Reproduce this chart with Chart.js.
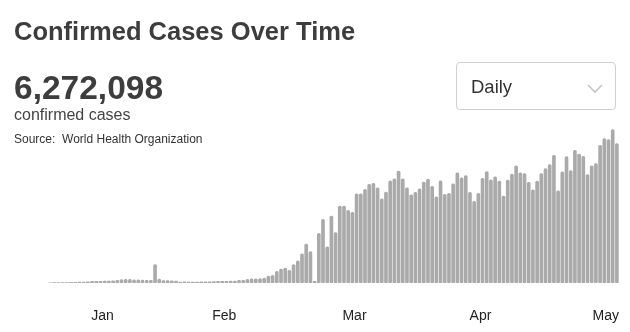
<!DOCTYPE html>
<html>
<head>
<meta charset="utf-8">
<script src="https://cdn.jsdelivr.net/npm/chart.js@4"></script>
<style>
  body { margin: 0; background: #fff; font-family: "Liberation Sans", Arial, sans-serif; }
  #wrap { position: relative; width: 630px; height: 332px; overflow: hidden; }
  #chartBox { position: absolute; left: 0; top: 0; width: 630px; height: 332px; }
  .title { position: absolute; left: 14px; top: 16.5px; font-size: 25.5px; font-weight: bold; color: #3d3d3d; white-space: nowrap; }
  .total { position: absolute; left: 14px; top: 68.5px; font-size: 33.5px; font-weight: bold; color: #3d3d3d; }
  .sub { position: absolute; left: 14px; top: 106px; font-size: 16px; color: #444; }
  .source { position: absolute; left: 14px; top: 132px; font-size: 12px; color: #333; white-space: pre; }
  .select { position: absolute; left: 456px; top: 62px; width: 160px; height: 48px; border: 1px solid #cfcfcf; border-radius: 4px; box-sizing: border-box; }
  .select span { position: absolute; left: 14px; top: 13px; font-size: 18.5px; color: #333; }
  .select svg { position: absolute; left: 129px; top: 19px; }
</style>
</head>
<body>
<div id="wrap">
  <div id="chartBox"><canvas id="casesChart"></canvas></div>
  <div class="title">Confirmed Cases Over Time</div>
  <div class="total">6,272,098</div>
  <div class="sub">confirmed cases</div>
  <div class="source">Source:  World Health Organization</div>
  <div class="select"><span>Daily</span>
    <svg width="18" height="12"><polyline points="2,3 9,10 16,3" fill="none" stroke="#c4c4c4" stroke-width="1.6"/></svg>
  </div>
</div>
<script>
// daily new cases, one per day starting 19 Jan 2020
const startDate = '2020-01-19';
const dailyCases = [
  250, 260, 340, 420, 430, 510, 600, 770, 850, 1100,
  1360, 1450, 1530, 1620, 1700, 1870, 2380, 2980, 3230, 3060,
  2800, 2720, 2550, 2380, 2210, 15730, 3400, 2130, 1960, 1870,
  1700, 850, 1020, 850, 680, 850, 940, 1020, 1100, 1280,
  1360, 1530, 1450, 1620, 1700, 2300, 2380, 3230, 3570, 3660,
  3830, 4250, 5950, 6460, 9860, 11900, 12750, 10710, 15810, 18960,
  24900, 33150, 26860, 1360, 42500, 54400, 30860, 57200, 43010, 65700,
  65700, 62050, 60350, 76160, 76160, 79900, 84150, 85000, 81260, 71910,
  77610, 87210, 88910, 95460, 88910, 81260, 75310, 77350, 80410, 86110,
  88660, 82450, 73610, 87210, 75650, 76500, 84660, 94010, 89760, 91800,
  77350, 69700, 76500, 89250, 95200, 88060, 90610, 86960, 74210, 87810,
  92910, 99960, 94010, 93500, 85850, 79560, 86960, 93500, 97750, 101150,
  109060, 78710, 94860, 107950, 96050, 113310, 110160, 108210, 92650, 99960,
  102000, 117560, 123250, 122400, 130900, 119000
];
// month labels and the day they sit on
const tickDates = ['2020-02-01', '2020-03-01', '2020-04-01', '2020-05-01', '2020-06-01'];
const tickLabels = ['Jan', 'Feb', 'Mar', 'Apr', 'May'];

// day labels
const days = [];
const d0 = new Date(startDate + 'T00:00:00Z');
for (let i = 0; i < dailyCases.length; i++) {
  const d = new Date(d0.getTime() + i * 86400000);
  days.push(d.toISOString().slice(0, 10));
}

// draws the month names under the bars, kept inside the chart area
const monthLabels = {
  id: 'monthLabels',
  afterDraw(chart) {
    const ctx = chart.ctx;
    const x = chart.scales.x;
    const area = chart.chartArea;
    ctx.save();
    ctx.font = '14px "Liberation Sans", Arial, sans-serif';
    ctx.fillStyle = '#222';
    ctx.textAlign = 'center';
    ctx.textBaseline = 'alphabetic';
    tickDates.forEach((t, i) => {
      const idx = days.indexOf(t);
      let px = x.getPixelForValue(idx - 0.5);
      const w = ctx.measureText(tickLabels[i]).width;
      px = Math.min(px, area.right - w / 2);
      ctx.fillText(tickLabels[i], px, 320);
    });
    ctx.restore();
  }
};

const ctx = document.getElementById('casesChart').getContext('2d');
new Chart(ctx, {
  type: 'bar',
  data: {
    labels: days,
    datasets: [{
      data: dailyCases,
      backgroundColor: '#aaaaaa',
      barThickness: 3,
      borderRadius: 1.5,
      borderSkipped: false
    }]
  },
  options: {
    responsive: true,
    maintainAspectRatio: false,
    animation: false,
    layout: { padding: { left: 48, right: 11, top: 119, bottom: 49 } },
    scales: {
      x: { display: false },
      y: { display: false, min: 0, max: 140000 }
    },
    plugins: {
      legend: { display: false },
      tooltip: { enabled: false }
    }
  },
  plugins: [monthLabels]
});
</script>
</body>
</html>
